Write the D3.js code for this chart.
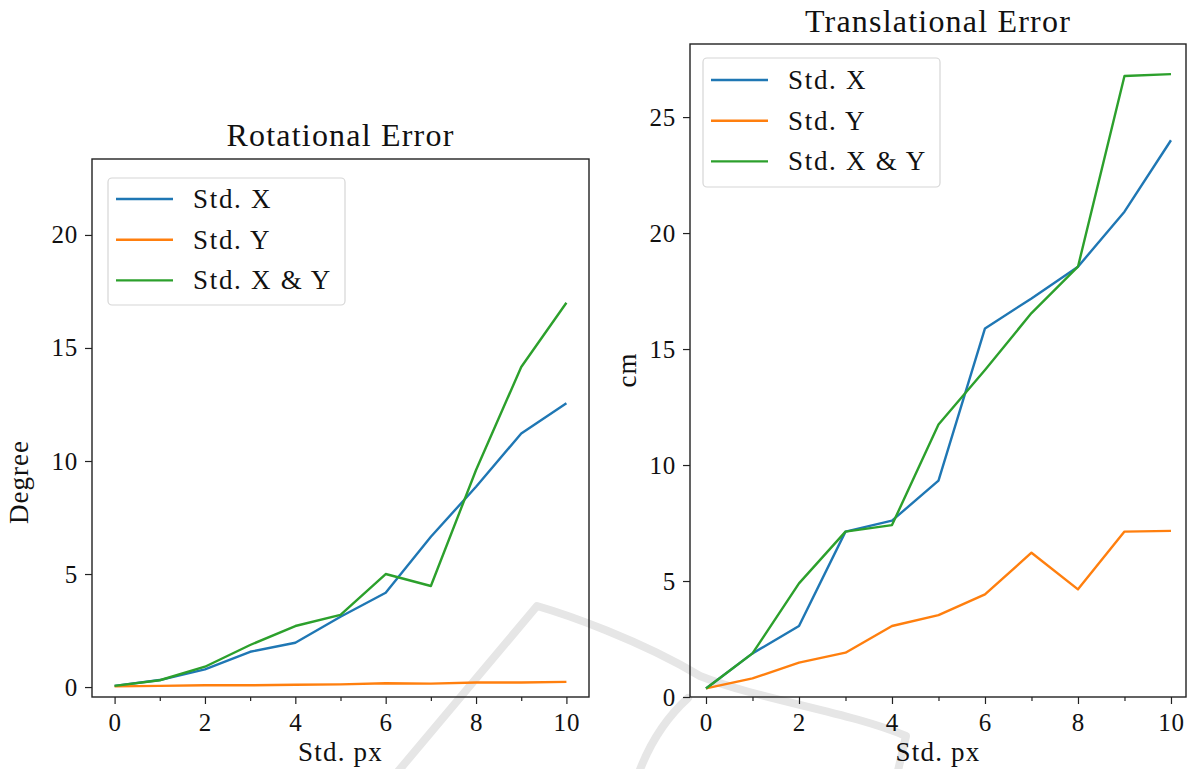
<!DOCTYPE html>
<html>
<head>
<meta charset="utf-8">
<script src="https://cdn.jsdelivr.net/npm/d3@7"></script>
<style>
  html, body { margin: 0; padding: 0; background: #fff; }
  svg { display: block; }
  text { font-family: "Liberation Serif", "Times New Roman", serif; fill: #111; }
</style>
</head>
<body>
<svg id="chart" width="1188" height="769"></svg>
<script>
// ---------------- data ----------------
const stdPx = [0, 1, 2, 3, 4, 5, 6, 7, 8, 9, 10];
const seriesNames = ["Std. X", "Std. Y", "Std. X & Y"];
const seriesColors = ["#1f77b4", "#ff7f0e", "#2ca02c"];

// Rotational error (Degree)
const rotStdX  = [0.05, 0.31, 0.78, 1.56, 1.96, 3.11, 4.17, 6.65, 8.86, 11.22, 12.55];
const rotStdY  = [0.03, 0.05, 0.08, 0.08, 0.10, 0.12, 0.17, 0.15, 0.20, 0.20, 0.23];
const rotStdXY = [0.05, 0.30, 0.90, 1.86, 2.70, 3.19, 5.00, 4.47, 9.60, 14.16, 17.00];

// Translational error (cm)
const transStdX  = [0.37, 1.88, 3.06, 7.13, 7.60, 9.33, 15.89, 17.18, 18.55, 20.92, 24.00];
const transStdY  = [0.37, 0.80, 1.48, 1.91, 3.06, 3.53, 4.42, 6.22, 4.64, 7.13, 7.16];
const transStdXY = [0.37, 1.88, 4.90, 7.13, 7.41, 11.75, 14.10, 16.55, 18.55, 26.77, 26.85];

const xMajorTicks = [0, 2, 4, 6, 8, 10];
const xMinorTicks = [1, 3, 5, 7, 9];
const rotYTicks = [0, 5, 10, 15, 20];
const transYTicks = [0, 5, 10, 15, 20, 25];

// ---------------- drawing ----------------
const svg = d3.select("#chart");

// faint background watermark (decoration, not data)
const wm = svg.append("g").attr("fill", "none").attr("stroke", "#e6e6e6")
  .attr("stroke-width", 8).attr("stroke-linecap", "round").attr("stroke-linejoin", "round");
wm.append("path").attr("d", "M395,775 L537,606 C565,614 640,640 700,676 C760,700 850,712 906,736 L897,775");
wm.append("path").attr("d", "M638,775 Q655,728 688,698");

function panel(cfg) {
  const g = svg.append("g");
  const x = d3.scaleLinear().domain(cfg.xDomain).range([cfg.left, cfg.right]);
  const y = d3.scaleLinear().domain(cfg.yDomain).range([cfg.bottom, cfg.top]);

  // x axis (major + minor ticks)
  const xAxis = g.append("g").attr("transform", `translate(0,${cfg.bottom})`)
    .call(d3.axisBottom(x).tickValues(xMajorTicks).tickSize(7).tickPadding(8).tickFormat(d3.format("d")));
  const xMinor = g.append("g").attr("transform", `translate(0,${cfg.bottom})`)
    .call(d3.axisBottom(x).tickValues(xMinorTicks).tickSize(4).tickFormat(""));
  const yAxis = g.append("g").attr("transform", `translate(${cfg.left},0)`)
    .call(d3.axisLeft(y).tickValues(cfg.yTicks).tickSize(7).tickPadding(7).tickFormat(d3.format("d")));

  [xAxis, xMinor, yAxis].forEach(a => {
    a.select(".domain").remove();
    a.selectAll(".tick line").attr("stroke", "#222").attr("stroke-width", 1.2);
    a.selectAll(".tick text").attr("font-family", "Liberation Serif, serif")
      .attr("font-size", 25).attr("letter-spacing", 0.8).attr("fill", "#111");
  });
  xAxis.selectAll(".tick text").attr("dy", "0.74em");

  // lines
  const line = d3.line().x((d, i) => x(stdPx[i])).y(d => y(d));
  cfg.series.forEach((s, i) => {
    g.append("path").datum(s).attr("fill", "none").attr("stroke", seriesColors[i])
      .attr("stroke-width", 2.4).attr("stroke-linejoin", "round").attr("d", line);
  });

  // frame
  g.append("rect").attr("x", cfg.left).attr("y", cfg.top)
    .attr("width", cfg.right - cfg.left).attr("height", cfg.bottom - cfg.top)
    .attr("fill", "none").attr("stroke", "#222").attr("stroke-width", 1.4);

  // title
  g.append("text").attr("x", (cfg.left + cfg.right) / 2).attr("y", cfg.titleY)
    .attr("text-anchor", "middle").attr("font-size", 32).attr("letter-spacing", 1.2)
    .text(cfg.title);

  // x label
  g.append("text").attr("x", (cfg.left + cfg.right) / 2).attr("y", 761)
    .attr("text-anchor", "middle").attr("font-size", 27).attr("letter-spacing", 1.2)
    .text("Std. px");

  // y label
  g.append("text").attr("transform", `translate(${cfg.yLabelX},${cfg.yLabelY}) rotate(-90)`)
    .attr("text-anchor", "middle").attr("font-size", 27).attr("letter-spacing", 1)
    .text(cfg.yLabel);

  // legend
  const L = cfg.legend;
  const lg = g.append("g");
  lg.append("rect").attr("x", L.x).attr("y", L.y).attr("width", L.w).attr("height", L.h)
    .attr("rx", 4).attr("fill", "#fff").attr("fill-opacity", 0.8)
    .attr("stroke", "#d6d6d6").attr("stroke-width", 1.2);
  seriesNames.forEach((n, i) => {
    const ry = L.y + L.firstRow + i * L.rowGap;
    lg.append("line").attr("x1", L.x + 8).attr("x2", L.x + 65).attr("y1", ry).attr("y2", ry)
      .attr("stroke", seriesColors[i]).attr("stroke-width", 2.4);
    lg.append("text").attr("x", L.x + 85).attr("y", ry + 9).attr("font-size", 27)
      .attr("letter-spacing", 1.7).text(n);
  });
}

panel({
  left: 92, right: 589, top: 159, bottom: 697,
  xDomain: [-0.5, 10.5], yDomain: [-0.44, 23.36],
  yTicks: rotYTicks,
  series: [rotStdX, rotStdY, rotStdXY],
  title: "Rotational Error", titleY: 146,
  yLabel: "Degree", yLabelX: 28, yLabelY: 482,
  legend: { x: 108, y: 178, w: 237, h: 127, firstRow: 21, rowGap: 40.7 }
});

panel({
  left: 690, right: 1186, top: 44, bottom: 697,
  xDomain: [-0.344, 10.323], yDomain: [0, 28.15],
  yTicks: transYTicks,
  series: [transStdX, transStdY, transStdXY],
  title: "Translational Error", titleY: 32,
  yLabel: "cm", yLabelX: 636, yLabelY: 370,
  legend: { x: 703, y: 58, w: 237, h: 129, firstRow: 22, rowGap: 40.7 }
});
</script>
</body>
</html>
